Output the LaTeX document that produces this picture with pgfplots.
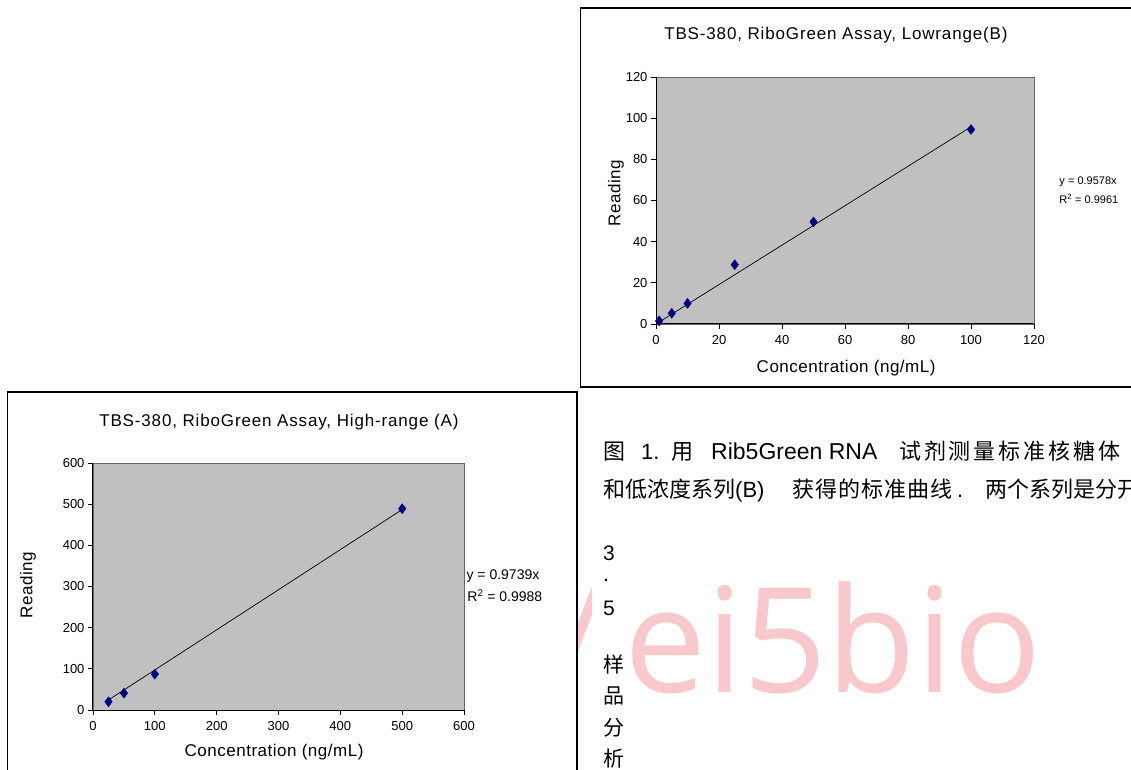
\documentclass[border=0pt]{standalone}
\usepackage{fontspec}
\usepackage{pgfplots}
\pgfplotsset{compat=1.18}
\setmainfont{Liberation Sans}
\newfontfamily\cjk{Noto Sans CJK SC}
\newfontfamily\cjkwide[LetterSpace=13]{Noto Sans CJK SC}
\newfontfamily\cjkmid[LetterSpace=5]{Noto Sans CJK SC}
\newfontfamily\wmfont{Open Sans}
\newfontfamily\titlefont[LetterSpace=5]{Liberation Sans}
\newfontfamily\labfont[LetterSpace=3]{Liberation Sans}
\definecolor{plotgray}{RGB}{192,192,192}
\definecolor{navy}{RGB}{0,0,128}
\definecolor{wm}{RGB}{248,200,205}

\pgfplotsset{
  every axis title shift=0pt,
  excelstyle/.style={
    anchor=south west, scale only axis,
    axis x line*=bottom, axis y line*=left,
    axis line style={black, line width=1pt, -},
    axis background/.style={fill=plotgray, draw=gray!80!black, line width=0.8pt},
    tick align=outside, major tick length=5pt,
    tick style={black, line width=0.8pt},
    ticklabel style={font=\fontsize{13}{13}\selectfont},
    xticklabel style={yshift=-3pt},
    /pgf/number format/assume math mode=true,
    title style={font=\titlefont\fontsize{17}{17}\selectfont, anchor=center},
    label style={font=\labfont\fontsize{17}{17}\selectfont},
    clip=false,
  }
}

\begin{document}
\begin{tikzpicture}[x=1pt,y=1pt]
\path[use as bounding box] (0,0) rectangle (1131,769);
\clip (0,0) rectangle (1131,769);
\fill[white] (0,0) rectangle (1131,769);

% watermark
\node[anchor=base west, inner sep=0, text=wm, font=\wmfont\fontsize{146}{146}\selectfont] at (492.5,77) {Mei5bio};
% white cell behind the numbered column
\fill[white] (592,0) rectangle (626,228);

% caption text, line 1
\begin{scope}[every node/.style={anchor=base west, inner sep=0, font=\fontsize{22}{22}\selectfont}]
\node at (603,310) {\cjk 图};
\node at (641,310) {1.};
\node at (671,310) {\cjk 用};
\node[font=\fontsize{23}{23}\selectfont] at (711,310) {Rib5Green RNA};
\node at (899,310) {\cjkwide 试剂测量标准核糖体};
% line 2
\node at (603,272) {\cjk 和低浓度系列};
\node at (735,272) {(B)};
\node at (792,272) {\cjkmid 获得的标准曲线};
\node at (957,272) {.};
\node at (985,272) {\cjk 两个系列是分开};
\end{scope}
\begin{scope}[every node/.style={anchor=west, inner sep=0, font=\fontsize{21}{21}\selectfont}]
\node at (603,216) {3};
\node at (603,189) {.};
\node at (603,161) {5};
\node at (603,105) {\cjk 样};
\node at (603,73) {\cjk 品};
\node at (603,41) {\cjk 分};
\node at (603,10) {\cjk 析};
\end{scope}

% frames
\draw[line width=1.3pt, fill=white] (580.5,761) rectangle (1145,382);
\draw[line width=1.3pt, fill=white] (7.5,377) rectangle (577,-20);

% top-right: low range
\begin{axis}[excelstyle,
  at={(656pt,445pt)}, width=378pt, height=247pt,
  xmin=0, xmax=120, ymin=0, ymax=120,
  xtick={0,20,...,120}, ytick={0,20,...,120},
  title={TBS-380, RiboGreen Assay, Lowrange(B)},
  title style={at={(axis description cs:0.476,1.170)}},
  xlabel={Concentration (ng/mL)},
  xlabel style={at={(axis description cs:0.503,-0.178)}, anchor=center},
  ylabel={Reading},
  ylabel style={at={(axis description cs:-0.106,0.530)}, anchor=center},
]
\addplot[black, line width=0.7pt, no marks] coordinates {(1,0.9578) (100,95.78)};
\addplot[only marks, mark=diamond*, mark size=5pt, color=navy] coordinates {
  (1,1.5) (5,5.2) (10,10) (25,28.8) (50,49.6) (100,94.5)};
\node[font=\fontsize{11}{11}\selectfont] at (axis description cs:1.143,0.575) {y = 0.9578x};
\node[font=\fontsize{11}{11}\selectfont] at (axis description cs:1.145,0.508) {R\textsuperscript{2} = 0.9961};
\end{axis}

% bottom-left: high range
\begin{axis}[excelstyle,
  at={(93pt,59pt)}, width=371pt, height=247pt,
  xmin=0, xmax=600, ymin=0, ymax=600,
  xtick={0,100,...,600}, ytick={0,100,...,600},
  title={TBS-380, RiboGreen Assay, High-range (A)},
  title style={at={(axis description cs:0.501,1.166)}},
  xlabel={Concentration (ng/mL)},
  xlabel style={at={(axis description cs:0.488,-0.170)}, anchor=center},
  ylabel={Reading},
  ylabel style={at={(axis description cs:-0.175,0.506)}, anchor=center},
]
\addplot[black, line width=0.7pt, no marks] coordinates {(25,24.35) (500,486.95)};
\addplot[only marks, mark=diamond*, mark size=5pt, color=navy] coordinates {
  (25,20) (50,41) (100,87) (500,489)};
\node[font=\fontsize{14}{14}\selectfont] at (axis description cs:1.105,0.543) {y = 0.9739x};
\node[font=\fontsize{14}{14}\selectfont] at (axis description cs:1.110,0.462) {R\textsuperscript{2} = 0.9988};
\end{axis}
\end{tikzpicture}
\end{document}
